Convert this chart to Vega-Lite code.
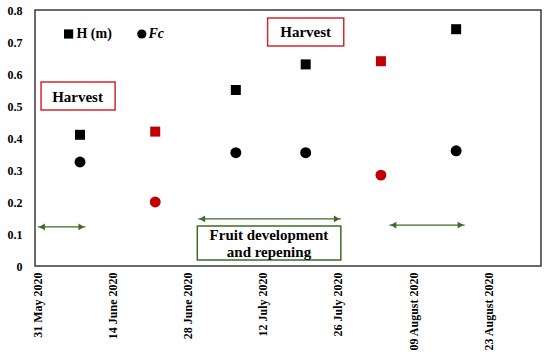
{
  "$schema": "https://vega.github.io/schema/vega-lite/v6.json",
  "width": 506,
  "height": 256,
  "autosize": {"type": "none"},
  "padding": {"left": 35, "top": 10, "right": 9, "bottom": 91},
  "background": "white",
  "config": {
    "font": "Liberation Serif",
    "view": {"stroke": "#3a3a3a", "strokeWidth": 1.5},
    "axis": {"grid": false, "ticks": false, "domain": false, "labelColor": "black", "labelFont": "Liberation Serif", "labelFontWeight": "bold", "labelFontSize": 12, "labelOverlap": false}
  },
  "datasets": {
    "points": [
      {"date": "2020-06-08", "series": "H (m)", "y": 0.41, "harvest": "no"},
      {"date": "2020-06-22", "series": "H (m)", "y": 0.42, "harvest": "yes"},
      {"date": "2020-07-07", "series": "H (m)", "y": 0.55, "harvest": "no"},
      {"date": "2020-07-20", "series": "H (m)", "y": 0.63, "harvest": "no"},
      {"date": "2020-08-03", "series": "H (m)", "y": 0.64, "harvest": "yes"},
      {"date": "2020-08-17", "series": "H (m)", "y": 0.74, "harvest": "no"},
      {"date": "2020-06-08", "series": "Fc", "y": 0.325, "harvest": "no"},
      {"date": "2020-06-22", "series": "Fc", "y": 0.2, "harvest": "yes"},
      {"date": "2020-07-07", "series": "Fc", "y": 0.354, "harvest": "no"},
      {"date": "2020-07-20", "series": "Fc", "y": 0.354, "harvest": "no"},
      {"date": "2020-08-03", "series": "Fc", "y": 0.284, "harvest": "yes"},
      {"date": "2020-08-17", "series": "Fc", "y": 0.36, "harvest": "no"}
    ],
    "boxes": [
      {"date": "2020-05-31T18:00:00Z", "date2": "2020-06-14T13:00:00Z", "y": 0.4875, "y2": 0.575, "kind": "harvest"},
      {"date": "2020-07-12T22:00:00Z", "date2": "2020-07-27T02:00:00Z", "y": 0.6875, "y2": 0.775, "kind": "harvest"},
      {"date": "2020-06-29T20:00:00Z", "date2": "2020-07-26T13:00:00Z", "y": 0.019, "y2": 0.125, "kind": "fruit"}
    ],
    "labels": [
      {"date": "2020-06-07T13:00:00Z", "y": 0.528, "text": "Harvest"},
      {"date": "2020-07-20T00:00:00Z", "y": 0.731, "text": "Harvest"},
      {"date": "2020-07-13T04:00:00Z", "y": 0.097, "text": "Fruit development"},
      {"date": "2020-07-13T04:00:00Z", "y": 0.044, "text": "and repening"}
    ],
    "arrows": [
      {"date": "2020-05-31T04:00:00Z", "date2": "2020-06-09T00:00:00Z", "y": 0.122},
      {"date": "2020-06-30T00:30:00Z", "date2": "2020-07-26T13:00:00Z", "y": 0.147},
      {"date": "2020-08-04T14:00:00Z", "date2": "2020-08-18T14:00:00Z", "y": 0.128}
    ],
    "heads": [
      {"date": "2020-05-31T22:00:00Z", "y": 0.122, "dir": "left"},
      {"date": "2020-06-08T06:00:00Z", "y": 0.122, "dir": "right"},
      {"date": "2020-06-30T18:00:00Z", "y": 0.147, "dir": "left"},
      {"date": "2020-07-25T19:00:00Z", "y": 0.147, "dir": "right"},
      {"date": "2020-08-05T08:00:00Z", "y": 0.128, "dir": "left"},
      {"date": "2020-08-17T20:00:00Z", "y": 0.128, "dir": "right"}
    ],
    "legendMarks": [
      {"date": "2020-06-05T21:00:00Z", "y": 0.725, "series": "H (m)"},
      {"date": "2020-06-19T12:00:00Z", "y": 0.725, "series": "Fc"}
    ],
    "legendText": [
      {"date": "2020-06-07T08:00:00Z", "y": 0.725, "text": "H (m)", "style": "normal"},
      {"date": "2020-06-20T18:00:00Z", "y": 0.725, "text": "Fc", "style": "italic"}
    ]
  },
  "encoding": {
    "x": {"field": "date", "type": "temporal", "title": null,
      "scale": {"type": "utc", "domain": [{"year": 2020, "month": 5, "date": 30, "hours": 15, "utc": true}, {"year": 2020, "month": 9, "date": 1, "hours": 19, "utc": true}]},
      "axis": {
        "values": [
          {"year": 2020, "month": 5, "date": 31, "utc": true},
          {"year": 2020, "month": 6, "date": 14, "utc": true},
          {"year": 2020, "month": 6, "date": 28, "utc": true},
          {"year": 2020, "month": 7, "date": 12, "utc": true},
          {"year": 2020, "month": 7, "date": 26, "utc": true},
          {"year": 2020, "month": 8, "date": 9, "utc": true},
          {"year": 2020, "month": 8, "date": 23, "utc": true}
        ],
        "labelExpr": "utcFormat(datum.value, '%d %B %Y')", "labelAngle": -90, "labelPadding": 6
      }},
    "y": {"field": "y", "type": "quantitative", "title": null,
      "scale": {"domain": [0, 0.8], "nice": false, "zero": false},
      "axis": {"values": [0, 0.1, 0.2, 0.3, 0.4, 0.5, 0.6, 0.7, 0.8], "labelExpr": "datum.value == 0 ? '0' : format(datum.value, '.1f')", "labelPadding": 13}}
  },
  "layer": [
    {
      "data": {"name": "boxes"},
      "mark": {"type": "rect", "fill": "white", "strokeWidth": 1.5},
      "encoding": {
        "x2": {"field": "date2"},
        "y2": {"field": "y2"},
        "stroke": {"field": "kind", "type": "nominal", "scale": {"domain": ["harvest", "fruit"], "range": ["#d42a2f", "#3d6b26"]}, "legend": null}
      }
    },
    {
      "data": {"name": "labels"},
      "mark": {"type": "text", "font": "Liberation Serif", "fontWeight": "bold", "fontSize": 15, "align": "center", "baseline": "middle", "color": "black"},
      "encoding": {
        "text": {"field": "text"}
      }
    },
    {
      "data": {"name": "arrows"},
      "mark": {"type": "rule", "color": "#3d6b26", "strokeWidth": 1.2},
      "encoding": {
        "x2": {"field": "date2"}
      }
    },
    {
      "data": {"name": "heads"},
      "mark": {"type": "point", "filled": true, "color": "#3d6b26", "size": 45, "opacity": 1},
      "encoding": {
        "shape": {"field": "dir", "type": "nominal", "scale": {"domain": ["left", "right"], "range": ["triangle-left", "triangle-right"]}, "legend": null}
      }
    },
    {
      "data": {"name": "points"},
      "mark": {"type": "point", "filled": true, "opacity": 1},
      "encoding": {
        "shape": {"field": "series", "type": "nominal", "scale": {"domain": ["H (m)", "Fc"], "range": ["square", "circle"]}, "legend": null},
        "size": {"field": "series", "type": "nominal", "scale": {"domain": ["H (m)", "Fc"], "range": [100, 120]}, "legend": null},
        "color": {"field": "harvest", "type": "nominal", "scale": {"domain": ["no", "yes"], "range": ["black", "#c00000"]}, "legend": null}
      }
    },
    {
      "data": {"name": "legendMarks"},
      "mark": {"type": "point", "filled": true, "opacity": 1, "color": "black", "size": 85},
      "encoding": {
        "shape": {"field": "series", "type": "nominal", "scale": {"domain": ["H (m)", "Fc"], "range": ["square", "circle"]}, "legend": null}
      }
    },
    {
      "data": {"name": "legendText"},
      "transform": [{"filter": "datum.style == 'normal'"}],
      "mark": {"type": "text", "font": "Liberation Serif", "fontWeight": "bold", "fontSize": 14, "align": "left", "baseline": "middle", "color": "black"},
      "encoding": {
        "text": {"field": "text"}
      }
    },
    {
      "data": {"name": "legendText"},
      "transform": [{"filter": "datum.style == 'italic'"}],
      "mark": {"type": "text", "font": "Liberation Serif", "fontWeight": "bold", "fontStyle": "italic", "fontSize": 14, "align": "left", "baseline": "middle", "color": "black"},
      "encoding": {
        "text": {"field": "text"}
      }
    }
  ],
  "resolve": {"scale": {"shape": "independent", "size": "independent", "color": "independent", "stroke": "independent"}}
}
